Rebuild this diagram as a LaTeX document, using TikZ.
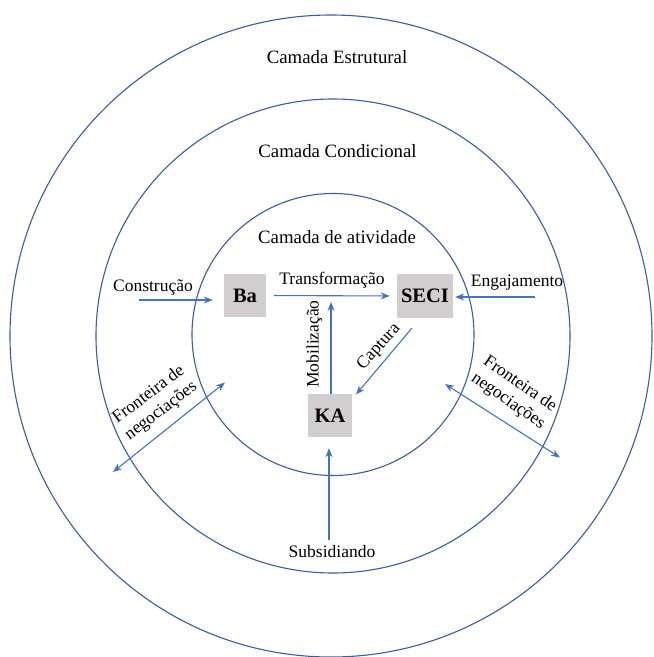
\documentclass[tikz,border=0pt]{standalone}
\usepackage{fontspec}
\setmainfont{Liberation Serif}
\usetikzlibrary{arrows.meta}
\definecolor{ringblue}{RGB}{58,92,165}
\definecolor{arrowblue}{RGB}{68,114,196}
\definecolor{boxgray}{RGB}{208,206,206}
\tikzset{
  ring/.style={draw=ringblue, line width=1.1pt},
  arr/.style={draw=arrowblue, line width=1.1pt, -{Stealth[length=9pt,width=7pt]}},
  dblarr/.style={draw=arrowblue, line width=1.1pt, {Stealth[length=9pt,width=7pt]}-{Stealth[length=9pt,width=7pt]}},
  layertitle/.style={font=\fontsize{18.8}{21}\selectfont, inner sep=0pt},
  lbl/.style={font=\fontsize{17.5}{20.5}\selectfont, inner sep=0pt},
  keybox/.style={fill=boxgray, inner sep=0pt, font=\fontsize{20.5}{23}\bfseries\selectfont}
}
\begin{document}
\begin{tikzpicture}[x=1pt, y=-1pt]
  \useasboundingbox (0,0) rectangle (654,657);

  % three concentric layers
  \draw[ring] (331,336) circle (321);
  \draw[ring] (333,336) circle (237);
  \draw[ring] (333,334.5) circle (141);

  % layer titles
  \node[layertitle] (tEst) at (337,57.5) {Camada Estrutural};
  \node[layertitle] (tCond) at (337.5,151) {Camada Condicional};
  \node[layertitle] (tAtiv) at (337,237.5) {Camada de atividade};

  % key elements
  \node[keybox, minimum width=42pt, minimum height=43pt] (Ba) at (245,295.5) {Ba};
  \node[keybox, minimum width=56pt, minimum height=44pt] (SECI) at (425,296) {SECI};
  \node[keybox, minimum width=44pt, minimum height=43pt] (KA) at (330,415.5) {KA};

  % Transformação
  \draw[arr, shorten <=8pt, shorten >=7pt] (Ba.east) -- (SECI.west);
  \node[lbl] (lTrans) at (332,280.5) {Transformação};

  % Construção
  \coordinate (conA) at (139,300);
  \draw[arr, shorten >=11pt] (conA) -- (conA -| Ba.west);
  \node[lbl] (lCons) at (153,287.5) {Construção};

  % Engajamento
  \coordinate (engA) at (535,297);
  \draw[arr, shorten >=2pt] (engA) -- (engA -| SECI.east);
  \node[lbl] (lEng) at (517,283) {Engajamento};

  % Mobilização
  \coordinate (mobE) at (331,302);
  \draw[arr] (KA.north -| mobE) -- (mobE);
  \node[lbl, rotate=90] (lMob) at (314.5,344) {Mobilização};

  % Captura
  \coordinate (capS) at (412,328);
  \coordinate (capE) at (356,394.5);
  \draw[arr] (capS) -- (capE);
  \node[lbl, rotate=48] (lCap) at (379,347) {Captura};

  % Subsidiando
  \node[lbl] (lSub) at (332,552) {Subsidiando};
  \coordinate (subS) at (329,540);
  \draw[arr, shorten >=11pt] (subS) -- (subS |- KA.south);

  % Fronteira de negociações, left
  \coordinate (fl1) at (113,472);
  \coordinate (fl2) at (225,382.5);
  \draw[dblarr] (fl1) -- (fl2);
  \node[lbl, rotate=37, align=center] (lFl) at (155,403) {Fronteira de\\negociações};

  % Fronteira de negociações, right
  \coordinate (fr1) at (445,384);
  \coordinate (fr2) at (560,457.5);
  \draw[dblarr] (fr1) -- (fr2);
  \node[lbl, rotate=-35, align=center] (lFr) at (514,393) {Fronteira de\\negociações};
\end{tikzpicture}
\end{document}
